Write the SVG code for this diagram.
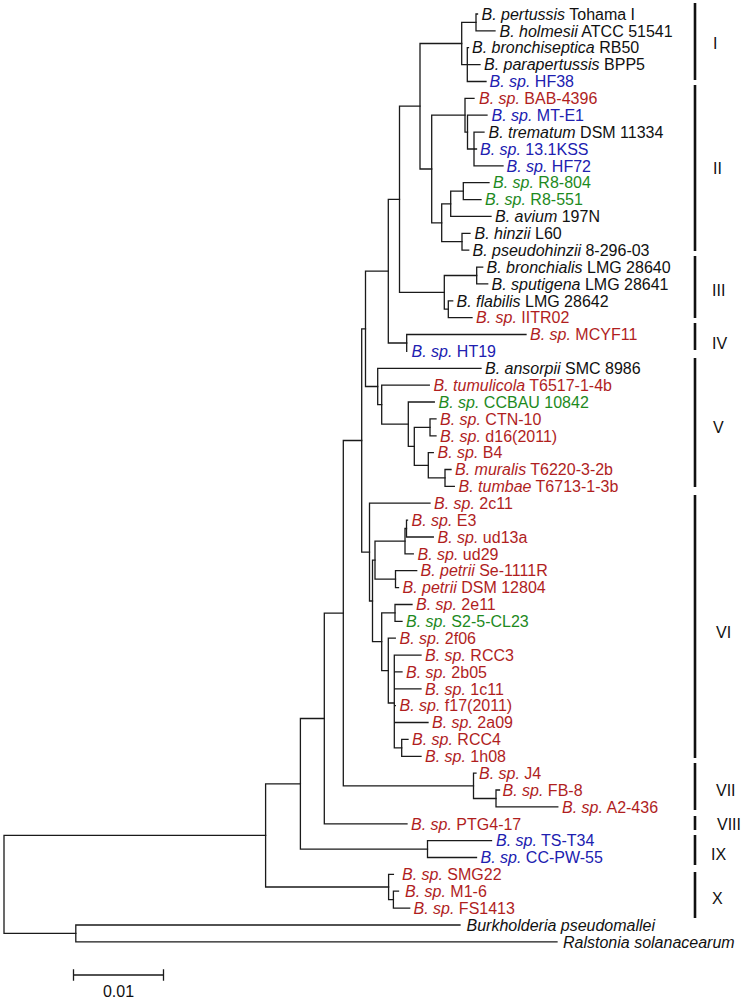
<svg xmlns="http://www.w3.org/2000/svg" width="743" height="1001" viewBox="0 0 743 1001">
<style>
text{font-family:"Liberation Sans",Arial,sans-serif;font-size:16px}
.i{font-style:italic}
.k{fill:#111}
.r{fill:#b01e1e}
.b{fill:#2020b0}
.g{fill:#1e8a1e}
.br{fill:none;stroke:#1a1a1a;stroke-width:1.3;stroke-linecap:square}
.bar{stroke:#111;stroke-width:2.6}
</style>
<rect width="743" height="1001" fill="#fff"/>
<g id="branches" class="br">
<path d="M4 835.4V933.4M4 835.4H265.6M4 933.4H75.8"/>
<path d="M75.8 925V941.9M75.8 925H460M75.8 941.9H557"/>
<path d="M265.6 783.8V887M265.6 783.8H300.4M265.6 887H388.6"/>
<path d="M300.4 718.5V849.1M300.4 718.5H324.3M300.4 849.1H427.5"/>
<path d="M427.5 840.6V857.5M427.5 840.6H491.5M427.5 857.5H476.5"/>
<path d="M388.6 874.4V899.7M388.6 874.4H393.4M388.6 899.7H393.4"/>
<path d="M393.4 891.2V908.1M393.4 891.2H398.5M393.4 908.1H409.7"/>
<path d="M324.3 613.2V823.8M324.3 613.2H343.3M324.3 823.8H407"/>
<path d="M343.3 440.5V785.8M343.3 440.5H361.7M343.3 785.8H473.5"/>
<path d="M473.5 773.2V798.5M473.5 773.2H476M473.5 798.5H496"/>
<path d="M496 790V806.9M496 790H499.5M496 806.9H557.8"/>
<path d="M361.7 328.8V552.1M361.7 328.8H365.5M361.7 552.1H369.5"/>
<path d="M369.5 503.2V601M369.5 503.2H430M369.5 601H372.5"/>
<path d="M372.5 560.2V641.7M372.5 560.2H375M372.5 641.7H381.7"/>
<path d="M375 541.2V579.1M375 541.2H405M375 579.1H395.5"/>
<path d="M405 528.5V553.8M405 528.5H406.5M405 553.8H413.3"/>
<path d="M406.5 520.1V537M406.5 520.1H407.5M406.5 537H433.3"/>
<path d="M395.5 570.7V587.6M395.5 570.7H416.7M395.5 587.6H398.5"/>
<path d="M381.7 612.9V670.6M381.7 612.9H395M381.7 670.6H388.3"/>
<path d="M395 604.5V621.3M395 604.5H412M395 621.3H402"/>
<path d="M388.3 638.2V703M388.3 638.2H395.3M388.3 703H394.3"/>
<path d="M394.3 655.1V747.8M394.3 655.1H421M394.3 671.9H402M394.3 688.8H421M394.3 705.7H395.3M394.3 722.5H428M394.3 747.8H401.7"/>
<path d="M401.7 739.4V756.3M401.7 739.4H408M401.7 756.3H421"/>
<path d="M365.5 271.1V386.5M365.5 271.1H388.3M365.5 386.5H377.7"/>
<path d="M388.3 199.3V343M388.3 199.3H399.5M388.3 343H406.7"/>
<path d="M406.7 334.5V351.4M406.7 334.5H526"/>
<path d="M399.5 106.2V292.4M399.5 106.2H420M399.5 292.4H444.3"/>
<path d="M444.3 275.5V309.2M444.3 275.5H476.7M444.3 309.2H448.3"/>
<path d="M476.7 267.1V283.9M476.7 267.1H482.7M476.7 283.9H487.7"/>
<path d="M448.3 300.8V317.7M448.3 300.8H452.7M448.3 317.7H472"/>
<path d="M420 43.5V169M420 43.5H461.7M420 169H431.7"/>
<path d="M461.7 22.4V64.6M461.7 22.4H476M461.7 64.6H467.3"/>
<path d="M476 14V30.9M476 14H477.5M476 30.9H495"/>
<path d="M467.3 47.7V81.5M467.3 47.7H468.5M467.3 64.6H480M467.3 81.5H486"/>
<path d="M431.7 115.2V222.8M431.7 115.2H465M431.7 222.8H441.7"/>
<path d="M465 98.4V132.1M465 98.4H474M465 132.1H467.5"/>
<path d="M467.5 115.2V149M467.5 115.2H487M467.5 149H474"/>
<path d="M474 132.1V165.8M474 132.1H484M474 149H476.5M474 165.8H503"/>
<path d="M441.7 203.8V241.7M441.7 203.8H450.7M441.7 241.7H462"/>
<path d="M450.7 191.1V216.4M450.7 191.1H463.3M450.7 216.4H491"/>
<path d="M463.3 182.7V199.6M463.3 182.7H489M463.3 199.6H481"/>
<path d="M462 233.3V250.2M462 233.3H470M462 250.2H468.7"/>
<path d="M377.7 368.3V404.7M377.7 368.3H481M377.7 404.7H381.7"/>
<path d="M381.7 385.1V424.2M381.7 385.1H429.3M381.7 424.2H408.3"/>
<path d="M408.3 402V446.3M408.3 402H434.3M408.3 446.3H414.3"/>
<path d="M414.3 427.3V465.3M414.3 427.3H430M414.3 465.3H428.3"/>
<path d="M430 418.9V435.8M430 418.9H436M430 435.8H436"/>
<path d="M428.3 452.6V477.9M428.3 452.6H433.3M428.3 477.9H445"/>
<path d="M445 469.5V486.4M445 469.5H451M445 486.4H454.3"/>
</g>
<g id="leaves">
<g id="n0"><text x="481.5" y="19.7" class="k"><tspan class="i">B. pertussis</tspan> Tohama I</text></g>
<g id="n1"><text x="499.5" y="36.6" class="k"><tspan class="i">B. holmesii</tspan> ATCC 51541</text></g>
<g id="n2"><text x="472" y="53.4" class="k"><tspan class="i">B. bronchiseptica</tspan> RB50</text></g>
<g id="n3"><text x="484" y="70.3" class="k"><tspan class="i">B. parapertussis</tspan> BPP5</text></g>
<g id="n4"><text x="489.5" y="87.2" class="b"><tspan class="i">B. sp.</tspan> HF38</text></g>
<g id="n5"><text x="479" y="104.1" class="r"><tspan class="i">B. sp.</tspan> BAB-4396</text></g>
<g id="n6"><text x="491.5" y="120.9" class="b"><tspan class="i">B. sp.</tspan> MT-E1</text></g>
<g id="n7"><text x="488.5" y="137.8" class="k"><tspan class="i">B. trematum</tspan> DSM 11334</text></g>
<g id="n8"><text x="480" y="154.7" class="b"><tspan class="i">B. sp.</tspan> 13.1KSS</text></g>
<g id="n9"><text x="506.5" y="171.5" class="b"><tspan class="i">B. sp.</tspan> HF72</text></g>
<g id="n10"><text x="493" y="188.4" class="g"><tspan class="i">B. sp.</tspan> R8-804</text></g>
<g id="n11"><text x="485" y="205.3" class="g"><tspan class="i">B. sp.</tspan> R8-551</text></g>
<g id="n12"><text x="495" y="222.1" class="k"><tspan class="i">B. avium</tspan> 197N</text></g>
<g id="n13"><text x="474.5" y="239" class="k"><tspan class="i">B. hinzii</tspan> L60</text></g>
<g id="n14"><text x="472.5" y="255.9" class="k"><tspan class="i">B. pseudohinzii</tspan> 8-296-03</text></g>
<g id="n15"><text x="486.5" y="272.8" class="k"><tspan class="i">B. bronchialis</tspan> LMG 28640</text></g>
<g id="n16"><text x="491.5" y="289.6" class="k"><tspan class="i">B. sputigena</tspan> LMG 28641</text></g>
<g id="n17"><text x="456.5" y="306.5" class="k"><tspan class="i">B. flabilis</tspan> LMG 28642</text></g>
<g id="n18"><text x="476" y="323.4" class="r"><tspan class="i">B. sp.</tspan> IITR02</text></g>
<g id="n19"><text x="530" y="340.2" class="r"><tspan class="i">B. sp.</tspan> MCYF11</text></g>
<g id="n20"><text x="411.5" y="357.1" class="b"><tspan class="i">B. sp.</tspan> HT19</text></g>
<g id="n21"><text x="485" y="374" class="k"><tspan class="i">B. ansorpii</tspan> SMC 8986</text></g>
<g id="n22"><text x="433.5" y="390.8" class="r"><tspan class="i">B. tumulicola</tspan> T6517-1-4b</text></g>
<g id="n23"><text x="438.5" y="407.7" class="g"><tspan class="i">B. sp.</tspan> CCBAU 10842</text></g>
<g id="n24"><text x="440" y="424.6" class="r"><tspan class="i">B. sp.</tspan> CTN-10</text></g>
<g id="n25"><text x="440" y="441.5" class="r"><tspan class="i">B. sp.</tspan> d16(2011)</text></g>
<g id="n26"><text x="437.5" y="458.3" class="r"><tspan class="i">B. sp.</tspan> B4</text></g>
<g id="n27"><text x="455" y="475.2" class="r"><tspan class="i">B. muralis</tspan> T6220-3-2b</text></g>
<g id="n28"><text x="458.5" y="492.1" class="r"><tspan class="i">B. tumbae</tspan> T6713-1-3b</text></g>
<g id="n29"><text x="434" y="508.9" class="r"><tspan class="i">B. sp.</tspan> 2c11</text></g>
<g id="n30"><text x="411.5" y="525.8" class="r"><tspan class="i">B. sp.</tspan> E3</text></g>
<g id="n31"><text x="437.5" y="542.7" class="r"><tspan class="i">B. sp.</tspan> ud13a</text></g>
<g id="n32"><text x="417.5" y="559.5" class="r"><tspan class="i">B. sp.</tspan> ud29</text></g>
<g id="n33"><text x="420.5" y="576.4" class="r"><tspan class="i">B. petrii</tspan> Se-1111R</text></g>
<g id="n34"><text x="402.5" y="593.3" class="r"><tspan class="i">B. petrii</tspan> DSM 12804</text></g>
<g id="n35"><text x="416" y="610.2" class="r"><tspan class="i">B. sp.</tspan> 2e11</text></g>
<g id="n36"><text x="406" y="627" class="g"><tspan class="i">B. sp.</tspan> S2-5-CL23</text></g>
<g id="n37"><text x="399.5" y="643.9" class="r"><tspan class="i">B. sp.</tspan> 2f06</text></g>
<g id="n38"><text x="425" y="660.8" class="r"><tspan class="i">B. sp.</tspan> RCC3</text></g>
<g id="n39"><text x="406" y="677.6" class="r"><tspan class="i">B. sp.</tspan> 2b05</text></g>
<g id="n40"><text x="425" y="694.5" class="r"><tspan class="i">B. sp.</tspan> 1c11</text></g>
<g id="n41"><text x="399.5" y="711.4" class="r"><tspan class="i">B. sp.</tspan> f17(2011)</text></g>
<g id="n42"><text x="432" y="728.2" class="r"><tspan class="i">B. sp.</tspan> 2a09</text></g>
<g id="n43"><text x="412" y="745.1" class="r"><tspan class="i">B. sp.</tspan> RCC4</text></g>
<g id="n44"><text x="425" y="762" class="r"><tspan class="i">B. sp.</tspan> 1h08</text></g>
<g id="n45"><text x="479" y="778.9" class="r"><tspan class="i">B. sp.</tspan> J4</text></g>
<g id="n46"><text x="502.5" y="795.7" class="r"><tspan class="i">B. sp.</tspan> FB-8</text></g>
<g id="n47"><text x="562" y="812.6" class="r"><tspan class="i">B. sp.</tspan> A2-436</text></g>
<g id="n48"><text x="411" y="829.5" class="r"><tspan class="i">B. sp.</tspan> PTG4-17</text></g>
<g id="n49"><text x="496" y="846.3" class="b"><tspan class="i">B. sp.</tspan> TS-T34</text></g>
<g id="n50"><text x="480.5" y="863.2" class="b"><tspan class="i">B. sp.</tspan> CC-PW-55</text></g>
<g id="n51"><text x="402" y="880.1" class="r"><tspan class="i">B. sp.</tspan> SMG22</text></g>
<g id="n52"><text x="405" y="896.9" class="r"><tspan class="i">B. sp.</tspan> M1-6</text></g>
<g id="n53"><text x="413.5" y="913.8" class="r"><tspan class="i">B. sp.</tspan> FS1413</text></g>
<g id="n54"><text x="466.5" y="930.7" class="k i">Burkholderia pseudomallei</text></g>
<g id="n55"><text x="563" y="947.6" class="k i">Ralstonia solanacearum</text></g>
</g>
<g id="clades">
<line class="bar" x1="695" y1="3" x2="695" y2="80"/>
<line class="bar" x1="695" y1="85" x2="695" y2="251"/>
<line class="bar" x1="695" y1="256" x2="695" y2="318"/>
<line class="bar" x1="695" y1="323" x2="695" y2="350"/>
<line class="bar" x1="695" y1="358" x2="695" y2="487"/>
<line class="bar" x1="695" y1="495" x2="695" y2="758"/>
<line class="bar" x1="695" y1="763" x2="695" y2="810"/>
<line class="bar" x1="695" y1="816" x2="695" y2="830"/>
<line class="bar" x1="695" y1="835" x2="695" y2="865"/>
<line class="bar" x1="695" y1="872" x2="695" y2="918"/>
<text x="713" y="49" class="k">I</text>
<text x="713" y="174" class="k">II</text>
<text x="712" y="296" class="k">III</text>
<text x="712" y="349" class="k">IV</text>
<text x="713" y="433" class="k">V</text>
<text x="716" y="638" class="k">VI</text>
<text x="716" y="796" class="k">VII</text>
<text x="717" y="830" class="k">VIII</text>
<text x="711" y="860" class="k">IX</text>
<text x="712" y="904" class="k">X</text>
</g>
<g id="scale">
<path class="br" d="M73.5 975H163.5M73.5 970V980M163.5 970V980"/>
<text x="118.5" y="997" class="k" text-anchor="middle">0.01</text>
</g>
</svg>
